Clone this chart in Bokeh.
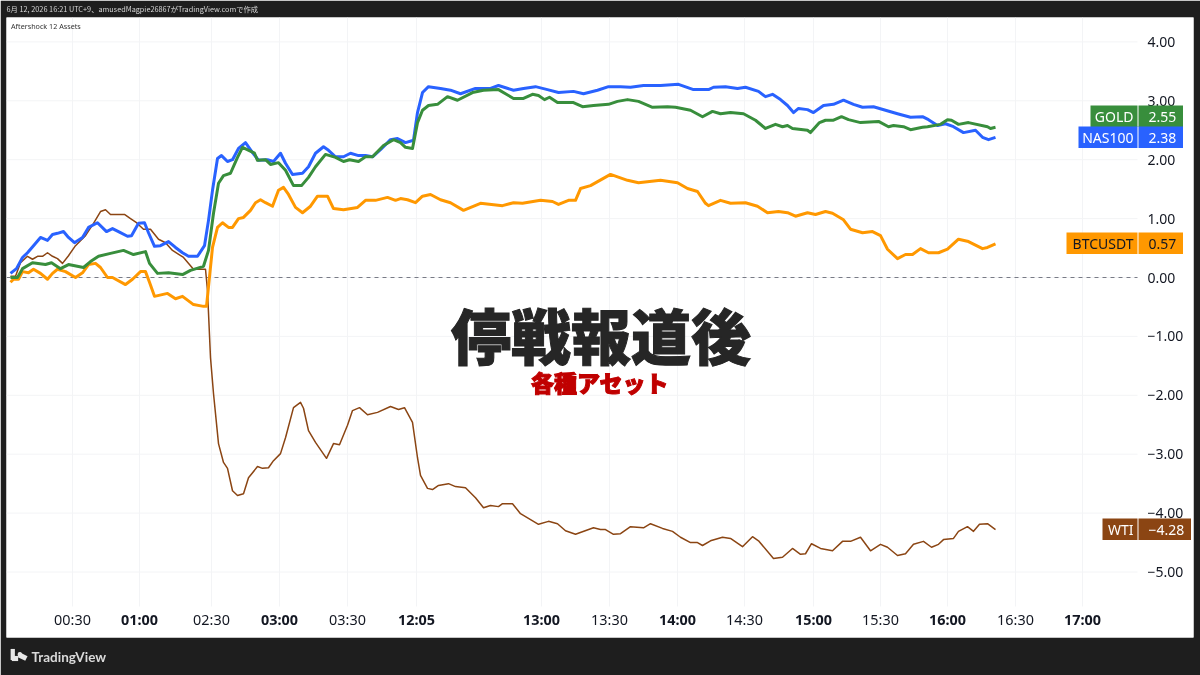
from bokeh.plotting import figure
from bokeh.models import LinearAxis, FixedTicker, Label, BoxAnnotation, Range1d
from bokeh.core.properties import value
from bokeh.embed import file_html
from bokeh.resources import INLINE

# x is the session position of TradingView's compressed time axis
tick_pos_minor = [72, 211, 347, 609, 744, 880, 1015]
tick_lab_minor = ["00:30", "02:30", "03:30", "13:30", "14:30", "15:30", "16:30"]
tick_pos_major = [139, 279, 416, 541, 677, 813, 947, 1082]
tick_lab_major = ["01:00", "03:00", "12:05", "13:00", "14:00", "15:00", "16:00", "17:00"]
y_ticks = [-5, -4, -3, -2, -1, 0, 1, 2, 3, 4]

nas_t = [10,16,22,27,33,40,47,52,57,63,68,74,82,88,97,106,112,118,127,131,138,144,148,154,160,168,175,182,188,197,204,208,212,217,221,227,232,238,245,252,258,267,273,280,285,292,302,308,315,323,328,335,343,350,358,365,372,380,390,397,405,413,417,422,428,440,450,460,475,490,498,513,523,535,547,558,573,583,597,608,620,630,643,660,678,693,708,713,725,737,745,758,765,772,780,787,793,798,807,813,823,833,843,853,862,873,885,897,910,922,928,937,945,953,963,975,982,988,995]
nas_v = [0.07,0.15,0.34,0.42,0.54,0.68,0.63,0.73,0.75,0.78,0.68,0.59,0.68,0.85,0.93,0.78,0.83,0.78,0.70,0.71,0.92,0.93,0.76,0.53,0.54,0.61,0.51,0.42,0.36,0.36,0.54,0.97,1.48,2.02,2.07,1.97,2.00,2.19,2.29,2.12,1.99,2.00,1.97,2.11,1.94,1.75,1.77,1.88,2.11,2.22,2.16,2.05,2.05,2.11,2.07,2.07,2.05,2.17,2.34,2.36,2.29,2.33,2.80,3.14,3.24,3.21,3.18,3.12,3.21,3.21,3.26,3.18,3.21,3.24,3.19,3.14,3.16,3.12,3.18,3.24,3.24,3.23,3.26,3.26,3.28,3.19,3.19,3.23,3.24,3.21,3.23,3.16,3.07,3.11,3.02,2.92,2.80,2.87,2.85,2.80,2.92,2.94,3.01,2.94,2.89,2.90,2.84,2.78,2.72,2.73,2.68,2.58,2.61,2.56,2.46,2.50,2.38,2.34,2.38]

gold_t = [10,17,22,32,45,51,60,68,83,90,98,110,123,133,145,149,157,168,182,190,203,208,213,218,223,230,237,242,254,257,265,270,278,285,293,301,308,315,325,335,343,349,358,365,372,383,393,400,405,412,417,422,428,437,447,457,472,483,498,513,523,532,538,544,549,557,573,582,593,608,617,627,638,652,667,675,690,702,712,720,730,743,755,765,775,782,787,792,807,810,819,825,833,841,848,860,878,888,893,903,910,922,927,940,947,951,958,968,987,990,995]
gold_v = [0.00,0.00,0.15,0.25,0.22,0.25,0.15,0.22,0.17,0.27,0.36,0.41,0.46,0.39,0.44,0.24,0.07,0.08,0.05,0.12,0.19,0.46,1.09,1.60,1.73,1.77,2.04,2.21,2.11,1.99,2.00,1.92,1.95,1.82,1.56,1.56,1.70,1.88,2.09,2.04,1.97,2.00,1.97,2.05,2.05,2.24,2.34,2.29,2.21,2.19,2.63,2.84,2.92,2.94,3.07,3.01,3.14,3.18,3.19,3.04,3.04,3.11,3.09,3.02,3.06,2.97,2.97,2.90,2.92,2.94,2.99,3.02,2.99,2.89,2.90,2.89,2.84,2.73,2.82,2.78,2.80,2.78,2.67,2.53,2.60,2.56,2.58,2.53,2.50,2.46,2.63,2.67,2.67,2.73,2.68,2.63,2.65,2.56,2.58,2.56,2.51,2.55,2.56,2.60,2.68,2.67,2.60,2.63,2.56,2.53,2.55]

btc_t = [10,13,18,22,28,33,40,47,52,57,65,75,82,88,95,100,107,112,125,132,140,145,149,154,167,175,182,193,203,206,212,217,222,228,232,238,243,250,255,260,265,272,278,283,288,295,302,310,317,327,333,343,357,365,375,387,395,400,407,415,422,430,440,450,463,480,502,513,522,540,552,558,568,575,580,590,610,627,638,660,677,687,697,705,708,720,730,745,757,767,778,787,795,807,815,825,832,843,850,862,872,880,887,897,905,912,920,928,938,947,958,968,982,987,995]
btc_v = [-0.08,-0.03,-0.03,0.10,0.08,0.14,0.07,-0.03,0.07,0.14,0.10,0.00,0.08,0.22,0.24,0.17,0.00,0.00,-0.12,-0.03,0.10,0.10,-0.08,-0.32,-0.27,-0.36,-0.32,-0.46,-0.49,-0.49,0.51,0.85,0.93,0.85,0.85,1.00,1.02,1.14,1.27,1.32,1.27,1.21,1.48,1.53,1.41,1.19,1.10,1.21,1.38,1.38,1.17,1.15,1.19,1.31,1.31,1.36,1.31,1.34,1.32,1.27,1.38,1.41,1.32,1.27,1.14,1.26,1.22,1.27,1.26,1.31,1.29,1.24,1.31,1.31,1.51,1.56,1.75,1.65,1.61,1.65,1.61,1.51,1.46,1.26,1.22,1.31,1.26,1.27,1.21,1.10,1.12,1.10,1.04,1.10,1.07,1.12,1.09,0.98,0.82,0.76,0.78,0.71,0.48,0.32,0.39,0.39,0.49,0.42,0.42,0.48,0.65,0.61,0.49,0.51,0.57]

wti_t = [10,15,20,27,32,37,42,47,52,57,62,68,75,85,93,100,105,110,124,130,136,143,150,158,165,172,183,193,205,207,210,213,218,223,227,232,237,243,248,257,262,268,273,280,285,293,300,303,308,315,326,333,339,347,352,359,367,377,390,398,404,412,417,420,427,432,438,448,455,465,475,483,490,498,502,512,520,538,548,557,565,575,593,600,605,613,620,630,643,650,662,672,680,690,697,702,710,722,730,742,752,758,773,782,792,800,805,811,820,832,842,850,860,870,880,887,897,905,913,923,931,938,943,953,958,967,973,979,987,995]
wti_v = [0.02,0.02,0.25,0.36,0.31,0.36,0.36,0.42,0.36,0.32,0.24,0.37,0.54,0.71,0.92,1.12,1.15,1.07,1.07,1.00,0.93,0.82,0.82,0.65,0.59,0.46,0.34,0.14,0.14,-0.22,-1.36,-1.97,-2.82,-3.14,-3.24,-3.62,-3.70,-3.67,-3.40,-3.21,-3.24,-3.23,-3.11,-2.99,-2.72,-2.21,-2.12,-2.22,-2.60,-2.80,-3.07,-2.82,-2.84,-2.51,-2.26,-2.21,-2.33,-2.29,-2.19,-2.24,-2.21,-2.46,-3.06,-3.36,-3.58,-3.60,-3.53,-3.50,-3.55,-3.57,-3.74,-3.91,-3.87,-3.89,-3.84,-3.84,-4.01,-4.19,-4.14,-4.18,-4.30,-4.36,-4.25,-4.28,-4.28,-4.36,-4.35,-4.23,-4.25,-4.18,-4.26,-4.31,-4.41,-4.50,-4.50,-4.55,-4.47,-4.41,-4.43,-4.57,-4.40,-4.47,-4.77,-4.75,-4.60,-4.70,-4.69,-4.52,-4.60,-4.64,-4.48,-4.48,-4.41,-4.64,-4.53,-4.58,-4.72,-4.69,-4.53,-4.48,-4.58,-4.53,-4.45,-4.43,-4.31,-4.23,-4.31,-4.19,-4.18,-4.28]

names = ["GOLD", "NAS100", "BTCUSDT", "WTI"]
last_values = ["2.55", "2.38", "0.57", "\u22124.28"]
colors = ["#388E3C", "#2962FF", "#FF9800", "#8B4513"]
tag_text = ["#FFFFFF", "#FFFFFF", "#131722", "#FFFFFF"]
tag_left = [1090, 1078, 1066, 1102]
tag_right = [1182.5, 1182.5, 1182.5, 1190.5]
tag_py = [105, 126, 232, 518]

DARK = "#1E1E1E"
INK = "#131722"
GRID = "#F3F4F6"
FONT = "Noto Sans"
CJK = "Noto Sans CJK JP"

def v(py):
    return (277.0 - py) / 58.9

p = figure(width=1200, height=675, output_backend="svg", toolbar_location=None,
           x_range=Range1d(6, 1193), y_range=Range1d(v(637), v(17)),
           x_axis_type=None, y_axis_type=None,
           min_border_left=6, min_border_right=7, min_border_top=17, min_border_bottom=38,
           background_fill_color="#FFFFFF", border_fill_color=DARK, outline_line_color=None,
           styles={"position": "fixed", "left": "0", "top": "0"})
p.grid.visible = False

# grid stops short of the price and time scales
xg = tick_pos_minor + tick_pos_major
p.segment(x0=xg, x1=xg, y0=[v(17)] * len(xg), y1=[v(606)] * len(xg), line_color=GRID, line_width=1, level="underlay")
yg = y_ticks
p.segment(x0=[6] * len(yg), x1=[1137] * len(yg), y0=yg, y1=yg, line_color=GRID, line_width=1, level="underlay")
p.segment(x0=[6], x1=[1137], y0=[0], y1=[0], line_color="#787B86", line_width=1, line_dash="4 4", level="underlay")

p.line(wti_t, wti_v, line_color=colors[3], line_width=1.5, line_join="round")
p.line(btc_t, btc_v, line_color=colors[2], line_width=3, line_join="round")
p.line(nas_t, nas_v, line_color=colors[1], line_width=3, line_join="round")
p.line(gold_t, gold_v, line_color=colors[0], line_width=3, line_join="round")

# axes placed inside the white pane
def time_axis(pos, lab, style):
    ax = LinearAxis(ticker=FixedTicker(ticks=pos), major_label_overrides=dict(zip(pos, lab)),
                    fixed_location=v(598), axis_line_color=None, major_tick_line_color=None,
                    minor_tick_line_color=None, major_label_text_font=FONT,
                    major_label_text_font_size="14.4px", major_label_text_font_style=style,
                    major_label_text_color=INK, major_label_standoff=5)
    p.add_layout(ax, "below")

time_axis(tick_pos_minor, tick_lab_minor, "normal")
time_axis(tick_pos_major, tick_lab_major, "bold")

y_lab = {t: (f"{t:.2f}" if t >= 0 else "\u2212" + f"{-t:.2f}") for t in y_ticks}
yax = LinearAxis(ticker=FixedTicker(ticks=y_ticks), major_label_overrides=y_lab, fixed_location=1140,
                 axis_line_color=None, major_tick_line_color=None, minor_tick_line_color=None,
                 major_label_text_font=FONT, major_label_text_font_size="14px",
                 major_label_text_color=INK, major_label_standoff=1)
p.add_layout(yax, "right")

# last-value tags
for nm, val_, col, tc, left, right, py in zip(names, last_values, colors, tag_text, tag_left, tag_right, tag_py):
    p.add_layout(BoxAnnotation(left=left, right=1137, top=v(py), bottom=v(py + 21.5), fill_color=col,
                               fill_alpha=1, line_color=None))
    p.add_layout(BoxAnnotation(left=1138, right=right, top=v(py), bottom=v(py + 21.5), fill_color=col,
                               fill_alpha=1, line_color=None))
    p.add_layout(Label(x=1133, y=v(py + 11), text=nm, text_align="right", text_baseline="middle",
                       text_font=FONT, text_font_size="14px", text_color=tc))
    p.add_layout(Label(x=1148, y=v(py + 11), text=val_, text_align="left", text_baseline="middle",
                       text_font=FONT, text_font_size="14px", text_color=tc))

# headline
p.text(x=[600.5], y=[v(333)], text=["停戦報道後"], text_font=value("Noto Sans CJK JP Black"), text_font_size="60px",
       text_align="center", text_baseline="middle", text_color="#262626", outline_color="#262626")
p.text(x=[599.5], y=[v(381.5)], text=["各種アセット"], text_font=value("Noto Sans CJK JP Black"), text_font_size="23px",
       text_align="center", text_baseline="middle", text_color="#C00000", outline_color="#C00000")

p.add_layout(Label(x=10.5, y=v(25), text="Aftershock 12 Assets", text_align="left", text_baseline="middle",
                   text_font=FONT, text_font_size="7.2px", text_color="#333333"))

# header and footer strips live in side panels, since annotations in the centre are clipped to the frame
p.add_layout(Label(x=6, y=8.5, x_units="canvas", y_units="canvas",
                   text="6月 12, 2026 16:21 UTC+9、amusedMagpie26867がTradingView.comで作成",
                   text_align="left", text_baseline="middle", text_font=CJK, text_font_size="7.3px",
                   text_color="#D6D6D6"), "above")
p.add_layout(Label(x=31, y=656.5, x_units="canvas", y_units="canvas", text="TradingView", text_align="left",
                   text_baseline="middle", text_font="Lato", text_font_size="13.5px", text_font_style="bold",
                   text_color="#DADADA"), "below")

# TradingView mark, built from label backgrounds, which are not clipped in a side panel;
# the pieces go in different panels so their stacked sizes do not push the frame
LOGO = "#E8E8E8"
def mark(cx, cy, pad_v, pad_h, side, angle=0.0, radius=0):
    p.add_layout(Label(x=cx, y=cy, x_units="canvas", y_units="canvas", text="\u00a0", text_font_size="1px",
                       text_align="center", text_baseline="middle", padding=(pad_v, pad_h), angle=angle,
                       border_radius=radius, background_fill_color=LOGO, background_fill_alpha=1), side)

mark(12.25, 654, 2, 5, "below")
mark(14.5, 658, 3, 2, "left")
mark(19.3, 654, 2, 2, "right", radius=2)
mark(22.2, 656.2, 4, 2, "below", angle=-0.46)

open("out.html", "w").write(file_html(p, INLINE))
